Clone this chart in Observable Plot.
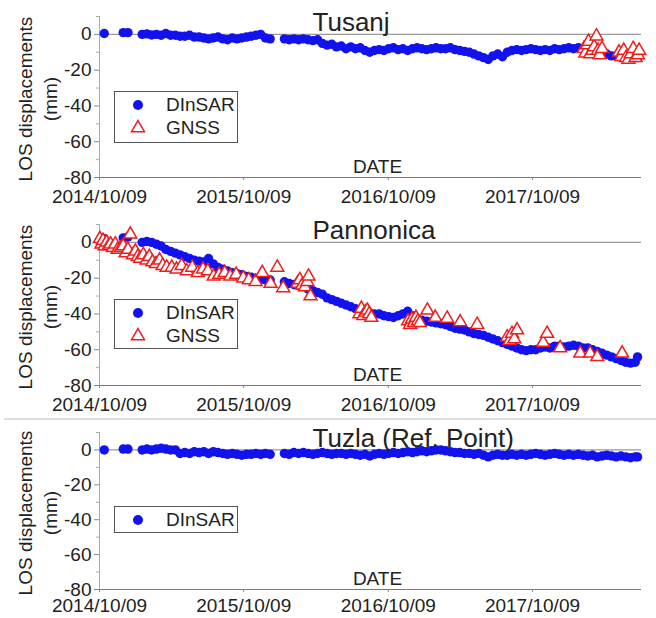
<!DOCTYPE html>
<html><head><meta charset="utf-8">
<script src="https://cdn.jsdelivr.net/npm/d3@7"></script>
<script src="https://cdn.jsdelivr.net/npm/@observablehq/plot@0.6"></script>
<style>
html,body{margin:0;padding:0;background:#fff;}
#wrap{position:relative;width:656px;height:618px;overflow:hidden;font-family:"Liberation Sans",Arial,sans-serif;color:#222;}
.panel{position:absolute;left:0;}
.legend{position:absolute;border:1px solid #555;background:#fff;box-sizing:border-box;}
.item{position:absolute;left:0;height:24px;display:flex;align-items:center;font-size:19px;line-height:24px;color:#222;white-space:nowrap;}
.item svg{flex:none;}
.sep{position:absolute;left:4px;right:0;top:418px;height:2px;background:#ddd;}
</style></head><body><div id="wrap"></div>
<script>
// ---------- data ----------
const xDomain = ["2014-10-09", "2018-07-12"];
const yDomain = [-80, 10];
const yTicks = [-80, -60, -40, -20, 0];
const yMinorTicks = [-70, -50, -30, -10, 10];
const xTickDates = ["2014-10-09", "2015-10-09", "2016-10-09", "2017-10-09"];
const xTickLabels = ["2014/10/09", "2015/10/09", "2016/10/09", "2017/10/09"];
const titles = ["Tusanj", "Pannonica", "Tuzla (Ref. Point)"];
const seriesNames = ["DInSAR", "GNSS"];
const yLabel = "LOS displacements\n(mm)";
const xLabel = "DATE";

const dates = ["2014-10-21","2014-12-08","2014-12-20","2015-01-25","2015-02-06","2015-02-18","2015-03-02","2015-03-14","2015-03-26","2015-04-07","2015-04-19","2015-05-01","2015-05-13","2015-05-25","2015-06-06","2015-06-18","2015-06-30","2015-07-12","2015-07-24","2015-08-05","2015-08-17","2015-08-29","2015-09-10","2015-09-22","2015-10-04","2015-10-16","2015-10-28","2015-11-09","2015-11-21","2015-12-03","2015-12-15","2016-01-20","2016-02-01","2016-02-13","2016-02-25","2016-03-08","2016-03-20","2016-04-01","2016-04-13","2016-04-25","2016-05-07","2016-05-19","2016-05-31","2016-06-12","2016-06-24","2016-07-06","2016-07-18","2016-07-30","2016-08-11","2016-08-23","2016-09-04","2016-09-16","2016-09-28","2016-10-10","2016-10-22","2016-11-03","2016-11-15","2016-11-27","2016-12-09","2016-12-21","2017-01-02","2017-01-14","2017-01-26","2017-02-07","2017-02-19","2017-03-03","2017-03-15","2017-03-27","2017-04-08","2017-04-20","2017-05-02","2017-05-14","2017-05-26","2017-06-07","2017-06-19","2017-07-01","2017-07-13","2017-07-25","2017-08-06","2017-08-18","2017-08-30","2017-09-11","2017-09-23","2017-10-05","2017-10-17","2017-10-29","2017-11-10","2017-11-22","2017-12-04","2017-12-16","2017-12-28","2018-01-09","2018-01-21","2018-02-02","2018-02-14","2018-02-26","2018-03-10","2018-03-22","2018-04-03","2018-04-15","2018-04-27","2018-05-09","2018-05-21","2018-06-02","2018-06-14","2018-06-26","2018-07-02"];

const tusanjDInSAR = [0.5,1,1,0,0.3,-0.3,0,-0.5,0.5,-0.5,
 -0.5,-1,-1,-0.5,-1.5,-1.5,-2,-2.5,-2,-1.5,
 -2.5,-3,-2,-2.5,-2,-1.5,-1,-0.5,0,-2,
 -2.5,-2.5,-3,-2.5,-3,-2.5,-3,-3.5,-3,-5,
 -6,-5.5,-7,-6.5,-8,-7,-8,-7.5,-9,-10,
 -9,-8.5,-9,-8,-7.5,-8.5,-8,-9,-8,-7.5,
 -8,-8.5,-8,-7.5,-8,-8,-7.5,-8.5,-9,-9.5,
 -10,-11,-12,-13,-14,-12,-11,-12.5,-10,-9,
 -8.5,-9,-8.5,-8,-8.5,-9,-8.5,-9,-8,-8.5,
 -8,-7.5,-8,-7.5,-8,-8,-8.5,-9,-10,-11,
 -12,-12,-12,-12.5,-12,-12.5,-13];

const pannonicaDInSAR = [2,2.5,3,0,0.5,0,-1,-2,-4,-5,
 -6,-7,-8,-9,-10,-10.5,-11,-9,-12,-14,
 -15,-16,-17,-17.5,-18,-19,-19.5,-20,-20.5,-21,
 -21,-22,-23,-23.5,-24,-24.5,-26,-27,-28,-29,
 -31,-32,-33,-34,-35,-36,-37,-38,-39,-39.5,
 -40,-40,-41,-41.5,-42,-41,-40,-38.5,-41,-43,
 -43.5,-44,-44.5,-45,-45.5,-46,-47,-48,-48.5,-49,
 -50,-51,-51.5,-52,-53,-54,-55,-56,-57,-58,
 -59,-60,-60.5,-60,-60,-59,-58.5,-59,-58,-58,
 -58.5,-58,-57.5,-58,-59,-59,-60,-61,-62,-63,
 -64,-65,-66,-67,-67.5,-67,-64];

const tuzlaDInSAR = [0,0.5,0.5,0,0.5,0,0.5,1,0.5,0,
 0,-2,-1.5,-2,-1,-1.5,-1,-2,-1,-1.5,
 -2,-2.5,-2,-2.5,-3,-2.5,-2.5,-2,-2.5,-2,
 -2.5,-2,-2.5,-1.5,-2,-1.5,-2,-2.5,-2,-1.5,
 -2,-2.5,-2,-2,-2.5,-2,-2.5,-3,-2.5,-3.5,
 -2.5,-2,-2.5,-2,-1.5,-2,-1.5,-1,-1.5,-1,
 -0.5,-1,-0.5,0,0,-0.5,-1,-1.5,-1.5,-2,
 -2,-2.5,-2,-3,-4,-3,-2.5,-3,-3,-2.5,
 -3,-2.5,-3,-2.5,-2,-2.5,-3,-2.5,-2,-2.5,
 -3,-2.5,-3,-2.5,-3,-3.5,-3,-4,-3.5,-3,
 -3.5,-4,-3.5,-4,-4.5,-4,-4];

const tusanjGnssDates = ["2018-02-16","2018-02-20","2018-02-24","2018-02-28","2018-03-04","2018-03-10","2018-03-14","2018-03-20","2018-03-24","2018-03-28","2018-04-03","2018-05-16","2018-05-22","2018-05-28","2018-06-03","2018-06-09","2018-06-15","2018-06-21","2018-06-27","2018-07-03","2018-07-06"];
const tusanjGnssValues = [-8,-10.5,-6,-4,-11,-9,-7,-1,-9,-11.5,-8,-10,-12.5,-9,-13,-14,-11,-8,-13,-11.5,-9];

const pannonicaGnssDates = ["2014-10-10","2014-10-14","2014-10-18","2014-10-22","2014-10-27","2014-11-01","2014-11-06","2014-11-12","2014-11-18","2014-11-24","2014-12-02","2014-12-08","2014-12-14","2014-12-20","2014-12-26","2015-01-02","2015-01-08","2015-01-14","2015-01-20","2015-01-28","2015-02-05","2015-02-12","2015-02-20","2015-03-01","2015-03-10","2015-03-18","2015-03-28","2015-04-10","2015-04-22","2015-05-05","2015-05-18","2015-06-01","2015-06-15","2015-06-28","2015-07-10","2015-07-25","2015-08-08","2015-08-22","2015-09-05","2015-09-20","2015-10-08","2015-10-22","2015-11-08","2015-11-25","2015-12-16","2016-01-02","2016-01-17","2016-02-22","2016-02-28","2016-03-05","2016-03-12","2016-03-18","2016-03-21","2016-03-26","2016-07-28","2016-08-02","2016-08-07","2016-08-12","2016-08-17","2016-08-22","2016-08-27","2016-11-28","2016-12-03","2016-12-08","2016-12-13","2016-12-18","2016-12-23","2016-12-28","2017-01-16","2017-02-05","2017-03-07","2017-04-09","2017-05-22","2017-08-06","2017-08-12","2017-08-18","2017-08-24","2017-08-31","2017-11-05","2017-11-15","2017-12-18","2018-02-07","2018-03-04","2018-03-22","2018-05-24"];
const pannonicaGnssValues = [2,-1,1,-2,0,-2,-1,-3,-1,-4,-3,-2,-6,-4,4.5,-7,-5,-8,-9,-7,-10,-8,-11,-12,-10,-13,-14,-14,-15,-13,-16,-14,-17,-15,-16,-19,-18,-17,-19,-18,-20,-21,-22,-17,-23,-14,-25.5,-23,-21,-24,-25,-22,-19,-30,-40,-37,-41,-39,-38,-40,-42,-44,-46,-43,-45,-42,-44,-45,-38,-42,-42.5,-44.5,-46,-53,-55,-51,-54,-49,-56,-51,-59,-62,-62,-64,-62];

// ---------- drawing ----------
const BLUE = "#1212ee";
const RED = "#f01c1c";
const FONT = "'Liberation Sans', Arial, sans-serif";
const DOT_R = 4.7, TRI_R = 4.8;
const wrap = document.getElementById("wrap");

function makePanel(cfg) {
  const dins = dates.map((d, i) => ({date: new Date(d), v: cfg.values[i]}));
  const gn = cfg.gnssDates ? cfg.gnssDates.map((d, i) => ({date: new Date(d), v: cfg.gnssValues[i]})) : [];
  const tickD = xTickDates.map(d => new Date(d));
  const fmt = d => { const k = tickD.findIndex(t => +t === +d); return k >= 0 ? xTickLabels[k] : ""; };
  const marks = [
    Plot.ruleY([0], {stroke: "#999", strokeWidth: 1.3}),
    Plot.ruleX([new Date(xDomain[0])], {stroke: "#aaa"}),
    Plot.ruleY([yDomain[0]], {stroke: "#777", strokeWidth: 1.2}),
    Plot.axisY({ticks: yTicks, tickFormat: d => String(d), tickSize: 5, tickPadding: 3, fontSize: 19, label: null, stroke: "#888", fill: "#222"}),
    Plot.axisY({ticks: yMinorTicks, tickSize: 3, tickFormat: () => "", label: null, stroke: "#aaa"}),
    Plot.axisX({ticks: tickD, tickFormat: fmt, tickSize: 3, tickPadding: cfg.tickPad, fontSize: 19, label: null, stroke: "#888", fill: "#222"}),
    Plot.dot(dins, {x: "date", y: "v", r: DOT_R, fill: BLUE}),
  ];
  if (gn.length) marks.push(Plot.dot(gn, {x: "date", y: "v", symbol: "triangle", r: TRI_R, stroke: RED, strokeWidth: 1.5, fill: "white"}));
  marks.push(
    Plot.text([cfg.title], {text: d => d, frameAnchor: "top-left", textAnchor: "start", lineAnchor: "bottom", dx: 213, dy: 14.5, fontSize: 26, fill: "#222"}),
    Plot.text([xLabel], {text: d => d, frameAnchor: "bottom", textAnchor: "middle", lineAnchor: "bottom", dx: 7, dy: -5, fontSize: 19, fill: "#222"}),
    Plot.text([yLabel], {text: d => d, frameAnchor: "left", textAnchor: "middle", lineAnchor: "middle", rotate: -90, dx: -63, dy: 2, lineHeight: 1.3, fontSize: 19, fill: "#222"})
  );
  const svg = Plot.plot({
    width: 656, height: cfg.height,
    marginLeft: 99, marginRight: 15, marginTop: 16, marginBottom: cfg.marginBottom,
    style: {fontFamily: FONT, color: "#222", background: "transparent", overflow: "visible"},
    x: {type: "utc", domain: xDomain.map(d => new Date(d))},
    y: {domain: yDomain},
    marks
  });
  const holder = document.createElement("div");
  holder.className = "panel";
  holder.style.top = cfg.top + "px";
  holder.appendChild(svg);
  wrap.appendChild(holder);

  // legend box
  const box = document.createElement("div");
  box.className = "legend";
  Object.assign(box.style, {left: "114px", top: cfg.legendTop + "px", width: "124px", height: cfg.legendHeight + "px"});
  cfg.legendNames.forEach((name, i) => {
    const row = document.createElement("div");
    row.className = "item";
    row.style.top = (14 + i * 23 - 12 - 1) + "px";
    let marker;
    if (i === 0) {
      marker = `<circle cx="23" cy="12" r="5" fill="${BLUE}"/>`;
    } else {
      const p = d3.symbol(d3.symbolTriangle).size(Math.PI * TRI_R * TRI_R)();
      marker = `<path d="${p}" transform="translate(23,12)" fill="white" stroke="${RED}" stroke-width="1.5"/>`;
    }
    row.innerHTML = `<svg width="51" height="24">${marker}</svg><span>${name}</span>`;
    box.appendChild(row);
  });
  wrap.appendChild(box);
}

makePanel({title: titles[0], values: tusanjDInSAR, gnssDates: tusanjGnssDates, gnssValues: tusanjGnssValues,
  top: 0, height: 207, marginBottom: 30, tickPad: 9, legendTop: 91, legendHeight: 52, legendNames: seriesNames});
makePanel({title: titles[1], values: pannonicaDInSAR, gnssDates: pannonicaGnssDates, gnssValues: pannonicaGnssValues,
  top: 208, height: 207, marginBottom: 30, tickPad: 9, legendTop: 299, legendHeight: 50, legendNames: seriesNames});
const sep = document.createElement("div");
sep.className = "sep";
wrap.appendChild(sep);
makePanel({title: titles[2], values: tuzlaDInSAR, gnssDates: null, gnssValues: null,
  top: 416, height: 200, marginBottom: 27, tickPad: 6, legendTop: 506, legendHeight: 27, legendNames: [seriesNames[0]]});
</script>
</body></html>
